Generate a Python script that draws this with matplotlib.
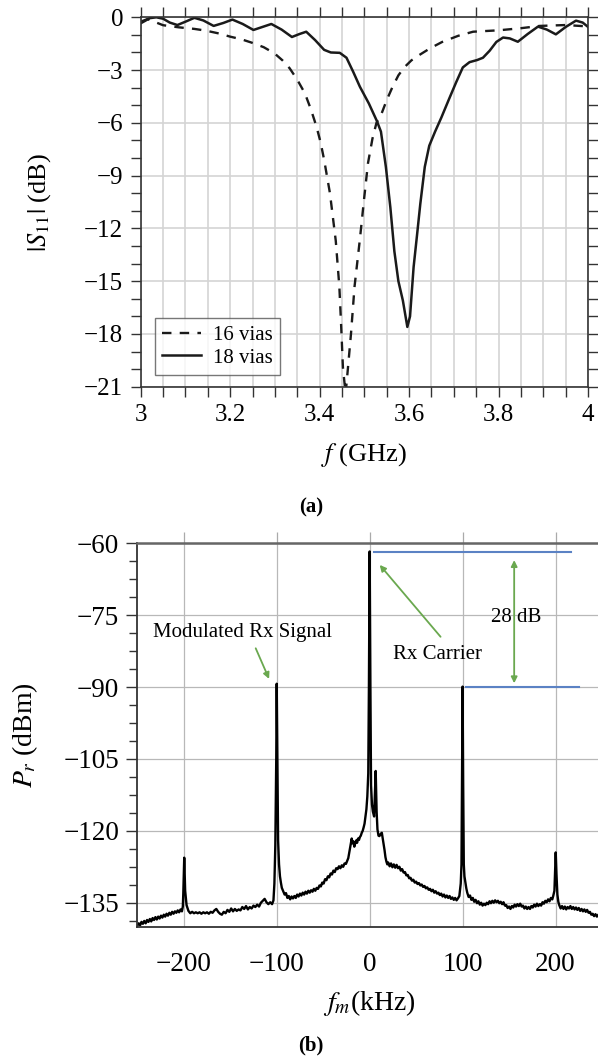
import matplotlib
matplotlib.use("Agg")
import matplotlib.pyplot as plt
from matplotlib.ticker import MultipleLocator, AutoMinorLocator, FuncFormatter

plt.rcParams["font.family"] = ["Liberation Serif", "DejaVu Serif"]
plt.rcParams["mathtext.fontset"] = "stix"

# (a) |S11| vs frequency
f16 = [3.000, 3.015, 3.030, 3.050, 3.085, 3.120, 3.146, 3.175, 3.200, 3.225,
       3.248, 3.275, 3.299, 3.317, 3.333, 3.350, 3.367, 3.380, 3.393, 3.402,
       3.410, 3.423, 3.436, 3.444, 3.448, 3.452, 3.458, 3.463, 3.470, 3.478,
       3.490, 3.499, 3.508, 3.518, 3.527, 3.538, 3.550, 3.563, 3.576, 3.589,
       3.605, 3.623, 3.647, 3.674, 3.710, 3.743, 3.800, 3.850, 3.892, 3.950,
       4.000]
s16 = [-0.25, -0.10, -0.25, -0.45, -0.57, -0.66, -0.76, -0.92, -1.10, -1.25,
       -1.44, -1.70, -2.05, -2.45, -2.90, -3.55, -4.32, -5.20, -6.22, -7.10,
       -8.10, -10.0, -12.7, -15.3, -17.5, -19.9, -21.4, -20.0, -18.0, -15.3,
       -12.6, -10.4, -8.3, -6.9, -6.0, -5.5, -4.7, -3.95, -3.3, -2.85,
       -2.45, -2.14, -1.76, -1.40, -1.05, -0.82, -0.74, -0.62, -0.49, -0.44,
       -0.52]

f18 = [3.000, 3.010, 3.020, 3.035, 3.050, 3.065, 3.082, 3.100, 3.120, 3.140,
       3.163, 3.185, 3.205, 3.228, 3.252, 3.272, 3.292, 3.315, 3.338, 3.355,
       3.370, 3.390, 3.410, 3.425, 3.445, 3.460, 3.475, 3.490, 3.510, 3.528,
       3.537, 3.548, 3.558, 3.567, 3.576, 3.586, 3.596, 3.602, 3.610, 3.618,
       3.625, 3.635, 3.645, 3.658, 3.672, 3.690, 3.705, 3.720, 3.735, 3.752,
       3.765, 3.780, 3.795, 3.810, 3.825, 3.843, 3.865, 3.888, 3.908, 3.928,
       3.950, 3.973, 3.988, 4.000]
s18 = [-0.34, -0.20, -0.05, 0.00, -0.08, -0.30, -0.44, -0.25, -0.03, -0.18,
       -0.49, -0.32, -0.13, -0.38, -0.72, -0.55, -0.38, -0.70, -1.12, -0.95,
       -0.82, -1.30, -1.85, -2.00, -2.02, -2.30, -3.10, -3.95, -4.90, -5.90,
       -6.50, -8.50, -10.8, -13.3, -15.0, -16.1, -17.6, -17.0, -14.2, -12.3,
       -10.6, -8.5, -7.3, -6.5, -5.7, -4.6, -3.7, -2.85, -2.55, -2.43,
       -2.30, -1.90, -1.40, -1.15, -1.20, -1.39, -0.95, -0.53, -0.70, -0.97,
       -0.55, -0.19, -0.30, -0.55]

# (b) received spectrum (kHz, dBm)
fm = [
    -250, -248.5, -247, -245.5, -244, -242.5, -241, -239.5, -238, -236.5,
    -235, -233.5, -232, -230.5, -229, -227.5, -226, -224.5, -223, -221.5,
    -220, -218.5, -217, -215.5, -214, -212.5, -211, -209.5, -208, -206.5,
    -205, -203.5, -202,
    -201, -200.5, -199.5, -198.5, -197,
    -195, -193, -191, -189, -187, -185, -183, -181, -179, -177,
    -175, -173, -171, -169, -167, -165, -163, -161, -159, -157,
    -155, -153, -151, -149, -147, -145, -143, -141, -139, -137,
    -135, -133, -131, -129, -127, -125, -123, -121, -119, -117,
    -115, -113, -111, -109, -107, -105,
    -103.5, -102.5, -101.5, -100.5, -100, -99.3, -98.5, -97.5, -96.5, -95.5, -94.5,
    -93, -91.5, -90, -88.5, -87, -85.5, -84, -82.5, -81, -79.5,
    -78, -76.5, -75, -73.5, -72, -70.5, -69, -67.5, -66, -64.5,
    -63, -61.5, -60, -58.5, -57, -55.5, -54, -52.5, -51, -49.5,
    -48, -46.5, -45, -43.5, -42, -40.5, -39, -37.5, -36, -34.5,
    -33, -31.5, -30, -28.5, -27, -25.5, -24,
    -23, -22, -21, -20, -19.3, -18.5, -17.5, -16.5, -15.5, -14.5,
    -13.5, -12.5, -11.5, -10.5, -9.5, -8.5, -7.5, -6.5, -5.5, -4.8,
    -3.5, -2.5, -1.5, -0.8, 0, 0.8, 1.5, 2.5, 3.5, 4.8,
    5.5, 6.5, 7.5, 8.4, 9.5, 10.5, 12, 13.1, 14.8,
    16, 17, 18, 19, 20,
    21.5, 23, 24.5, 26, 27.5, 29, 30.5, 32, 33.5, 35,
    36.5, 38, 39.5, 41, 42.5, 44, 45.5, 47, 48.5, 50,
    51.5, 53, 54.5, 56, 57.5, 59, 60.5, 62, 63.5, 65,
    66.5, 68, 69.5, 71, 72.5, 74, 75.5, 77, 78.5, 80,
    81.5, 83, 84.5, 86, 87.5, 89, 90.5, 92, 93.5, 95, 96.5,
    98, 98.8, 99.4, 100, 100.6, 101.3, 102, 103, 104, 105,
    106.5, 108, 109.5, 111, 112.5, 114, 115.5, 117, 118.5, 120,
    121.5, 123, 124.5, 126, 127.5, 129, 130.5, 132, 133.5, 135,
    136.5, 138, 139.5, 141, 142.5, 144, 145.5, 147, 148.5, 150,
    151.5, 153, 154.5, 156, 157.5, 159, 160.5, 162, 163.5, 165,
    166.5, 168, 169.5, 171, 172.5, 174, 175.5, 177, 178.5, 180,
    181.5, 183, 184.5, 186, 187.5, 189, 190.5, 192, 193.5, 195, 196.5,
    197.5, 198.8, 199.6, 200.2, 201, 202, 203, 204,
    205.5, 207, 208.5, 210, 211.5, 213, 214.5, 216, 217.5, 219,
    220.5, 222, 223.5, 225, 226.5, 228, 229.5, 231, 232.5, 234,
    235.5, 237, 238.5, 240, 241.5, 243, 244.5, 246, 247.5, 249, 250,
]
pr = [
    -139.8, -139.3, -139.7, -139.0, -139.4, -138.8, -139.3, -138.6, -139.0, -138.4,
    -138.9, -138.2, -138.6, -138.0, -138.5, -137.9, -138.3, -137.7, -138.1, -137.5,
    -137.9, -137.3, -137.7, -137.1, -137.5, -136.9, -137.3, -136.8, -137.1, -136.6,
    -137.0, -136.4, -136.8,
    -135.8, -133.0, -125.6, -132.5, -135.5,
    -136.7, -137.2, -136.9, -137.2, -137.0, -137.2, -137.0, -137.3, -137.0, -137.2,
    -137.0, -137.3, -136.9, -137.1, -136.6, -136.3, -136.9, -137.3, -137.5, -136.9,
    -137.2, -136.5, -136.9, -136.2, -136.8, -136.3, -136.7, -136.4, -136.6, -135.9,
    -136.3, -135.7, -136.4, -135.9, -136.2, -135.6, -135.9, -135.4, -135.8, -135.0,
    -134.6, -134.2, -134.9, -135.3, -134.9, -135.3,
    -134.5, -131.0, -123.0, -105.0, -89.3, -105.0, -122.0, -127.0, -129.5, -130.8, -131.9,
    -132.6, -133.3, -133.0, -134.0, -133.6, -134.3, -133.7, -134.1, -133.6, -134.0,
    -133.3, -133.7, -133.1, -133.5, -132.9, -133.3, -132.7, -133.1, -132.5, -132.9,
    -132.4, -132.7, -132.1, -132.5, -131.9, -132.1, -131.4, -131.6, -130.8, -131.0,
    -130.1, -130.3, -129.5, -129.7, -128.9, -129.1, -128.3, -128.6, -127.8, -128.0,
    -127.4, -127.8, -127.2, -127.5, -126.8, -126.9, -126.2,
    -125.7, -124.6, -123.5, -122.3, -121.6, -122.6, -122.2, -123.3, -122.6, -122.0,
    -122.5, -121.6, -121.9, -121.3, -121.0, -120.4, -120.0, -119.3, -118.5, -117.4,
    -115.5, -112.8, -108.0, -90.0, -61.7, -90.0, -110.5, -114.5, -116.0, -117.0,
    -113.0, -107.5, -116.0, -119.7, -121.0, -121.1, -120.6, -120.4, -122.5,
    -124.0, -125.5, -126.4, -127.0, -126.6,
    -127.4, -126.8, -127.6, -127.0, -127.7, -127.1, -127.8, -127.5, -128.3, -128.0,
    -128.7, -128.6, -129.3, -129.2, -129.9, -129.8, -130.4, -130.2, -130.8, -130.6,
    -131.1, -130.9, -131.4, -131.2, -131.7, -131.5, -132.0, -131.8, -132.3, -132.1,
    -132.6, -132.3, -132.9, -132.6, -133.1, -132.9, -133.4, -133.1, -133.7, -133.3,
    -133.9, -133.5, -134.0, -133.6, -134.2, -133.9, -134.4, -134.0, -134.5, -134.1, -133.6,
    -131.0, -127.0, -110.0, -89.9, -110.0, -127.0, -129.5, -130.8, -132.0, -132.9,
    -133.8, -133.5, -134.4, -134.0, -134.8, -134.4, -135.1, -134.7, -135.4, -135.0,
    -135.6, -135.2, -135.5, -135.0, -135.3, -134.7, -135.1, -134.6, -135.0, -134.5,
    -134.9, -134.6, -135.1, -134.8, -135.3, -134.9, -135.6, -135.5, -136.1, -135.8,
    -136.3, -135.7, -136.0, -135.4, -135.8, -135.3, -135.7, -135.2, -135.8, -135.6,
    -136.2, -135.8, -136.3, -135.9, -136.3, -135.7, -136.0, -135.4, -135.8, -135.2,
    -135.7, -135.3, -135.6, -134.9, -135.2, -134.6, -134.9, -134.3, -134.7, -134.0, -134.3,
    -133.6, -132.5, -128.0, -124.5, -129.0, -133.3, -134.8, -135.5,
    -136.2, -135.7, -136.3, -135.8, -136.4, -135.9, -136.2, -135.7, -136.3, -135.9,
    -136.4, -136.0, -136.5, -136.1, -136.7, -136.3, -136.8, -136.4, -136.9, -136.5,
    -137.1, -136.9, -137.5, -137.3, -137.8, -137.4, -137.9, -137.5, -137.9, -137.5, -137.7,
]

carrier_level = -61.9
sideband_level = -90.0
top_line_x = [4.6, 217.0]
bottom_line_x = [103.8, 225.2]
delta_label = "28 dB"

GREEN = "#6aa84f"
BLUE = "#5b82c4"
DARK = "#333333"


def fmt(v, pos):
    return f"{v:g}".replace("-", "\u2212")


fig = plt.figure(figsize=(5.98, 10.61), dpi=100)

# ---- (a)
ax1 = fig.add_axes([0.2353, 0.6355, 0.7481, 0.3482])
ax1.plot(f16, s16, color="#1a1a1a", lw=1.7, dashes=(4, 3.5), label="16 vias")
ax1.plot(f18, s18, color="#1a1a1a", lw=1.8, label="18 vias")
ax1.set_xlim(3, 4)
ax1.set_ylim(-21, 0)
ax1.xaxis.set_major_locator(MultipleLocator(0.2))
ax1.xaxis.set_minor_locator(MultipleLocator(0.05))
ax1.yaxis.set_major_locator(MultipleLocator(3))
ax1.yaxis.set_minor_locator(MultipleLocator(1))
ax1.xaxis.set_major_formatter(FuncFormatter(fmt))
ax1.yaxis.set_major_formatter(FuncFormatter(fmt))
ax1.tick_params(which="both", direction="out", top=True, right=True,
                length=7.5, width=1, color=DARK, labelsize=18, pad=5)
ax1.set_axisbelow(True)
ax1.grid(axis="x", which="both", color="#d4d4d4", lw=1.2)
ax1.grid(axis="y", which="major", color="#d4d4d4", lw=1.2)
for sp in ax1.spines.values():
    sp.set_color(DARK)
    sp.set_linewidth(1.2)
ax1.set_xlabel(r"$f$ (GHz)", fontsize=19, va="center")
ax1.xaxis.set_label_coords(0.5, -0.185)
ax1.set_ylabel(r"$|S_{11}|$ (dB)", fontsize=19, va="center")
ax1.yaxis.set_label_coords(-0.225, 0.5)
leg = ax1.legend(loc="lower left", bbox_to_anchor=(0.031, 0.032), borderaxespad=0,
                 fontsize=15, handlelength=1.9, handletextpad=0.55,
                 borderpad=0.35, labelspacing=0.15, fancybox=False)
leg.get_frame().set_edgecolor("#555555")
leg.get_frame().set_linewidth(1.0)

fig.text(311 / 598, 1 - 507 / 1061, "(a)", fontsize=15, fontweight="bold",
         ha="center", va="center")

# ---- (b)
ax2 = fig.add_axes([0.2296, 0.1266, 0.7771, 0.3613])
ax2.plot(fm, pr, color="black", lw=1.7)
ax2.set_xlim(-250, 250)
ax2.set_ylim(-140, -60)
ax2.xaxis.set_major_locator(MultipleLocator(100))
ax2.yaxis.set_major_locator(MultipleLocator(15))
ax2.yaxis.set_minor_locator(AutoMinorLocator(4))
ax2.xaxis.set_major_formatter(FuncFormatter(fmt))
ax2.yaxis.set_major_formatter(FuncFormatter(fmt))
ax2.set_axisbelow(True)
ax2.grid(which="major", color="#b8b8b8", lw=0.9)
ax2.tick_params(axis="y", which="major", direction="out", length=8, width=1,
                color=DARK, labelsize=19.5, pad=5)
ax2.tick_params(axis="y", which="minor", direction="out", length=6, width=1,
                color=DARK)
ax2.tick_params(axis="x", which="major", bottom=False, top=True, labelbottom=True,
                labeltop=False, direction="out", length=8, width=0.9,
                color="#aaaaaa", labelsize=19.5, pad=10)
ax2.spines["right"].set_visible(False)
ax2.spines["top"].set_color("#666666")
ax2.spines["top"].set_linewidth(1.8)
ax2.spines["left"].set_color(DARK)
ax2.spines["left"].set_linewidth(1.3)
ax2.spines["bottom"].set_color(DARK)
ax2.spines["bottom"].set_linewidth(1.3)
ax2.set_xlabel(r"$f_m$(kHz)", fontsize=20, va="center")
ax2.xaxis.set_label_coords(0.5, -0.199)
ax2.set_ylabel(r"$P_r$ (dBm)", fontsize=20, va="center")
ax2.yaxis.set_label_coords(-0.2417, 0.5)

ax2.plot(top_line_x, [carrier_level] * 2, color=BLUE, lw=1.5)
ax2.plot(bottom_line_x, [sideband_level] * 2, color=BLUE, lw=1.5)
ax2.annotate("", xy=(155.5, -63.5), xytext=(155.5, -89.2),
             arrowprops=dict(arrowstyle="<|-|>", color=GREEN, lw=1.3,
                             mutation_scale=9, shrinkA=0, shrinkB=0))
ax2.text(158, -75.5, delta_label, fontsize=15, ha="center", va="center")
ax2.text(-233.2, -78.6, "Modulated Rx Signal", fontsize=15, ha="left", va="center")
ax2.annotate("", xy=(-108.2, -88.3), xytext=(-122.6, -81.9),
             arrowprops=dict(arrowstyle="-|>", color=GREEN, lw=1.3,
                             mutation_scale=9, shrinkA=0, shrinkB=0))
ax2.text(25, -83.3, "Rx Carrier", fontsize=15, ha="left", va="center")
ax2.annotate("", xy=(10.8, -64.5), xytext=(76.3, -79.5),
             arrowprops=dict(arrowstyle="-|>", color=GREEN, lw=1.3,
                             mutation_scale=9, shrinkA=0, shrinkB=0))

fig.text(311 / 598, 1 - 1045 / 1061, "(b)", fontsize=15, fontweight="bold",
         ha="center", va="center")

fig.savefig("out.png", dpi=100)
